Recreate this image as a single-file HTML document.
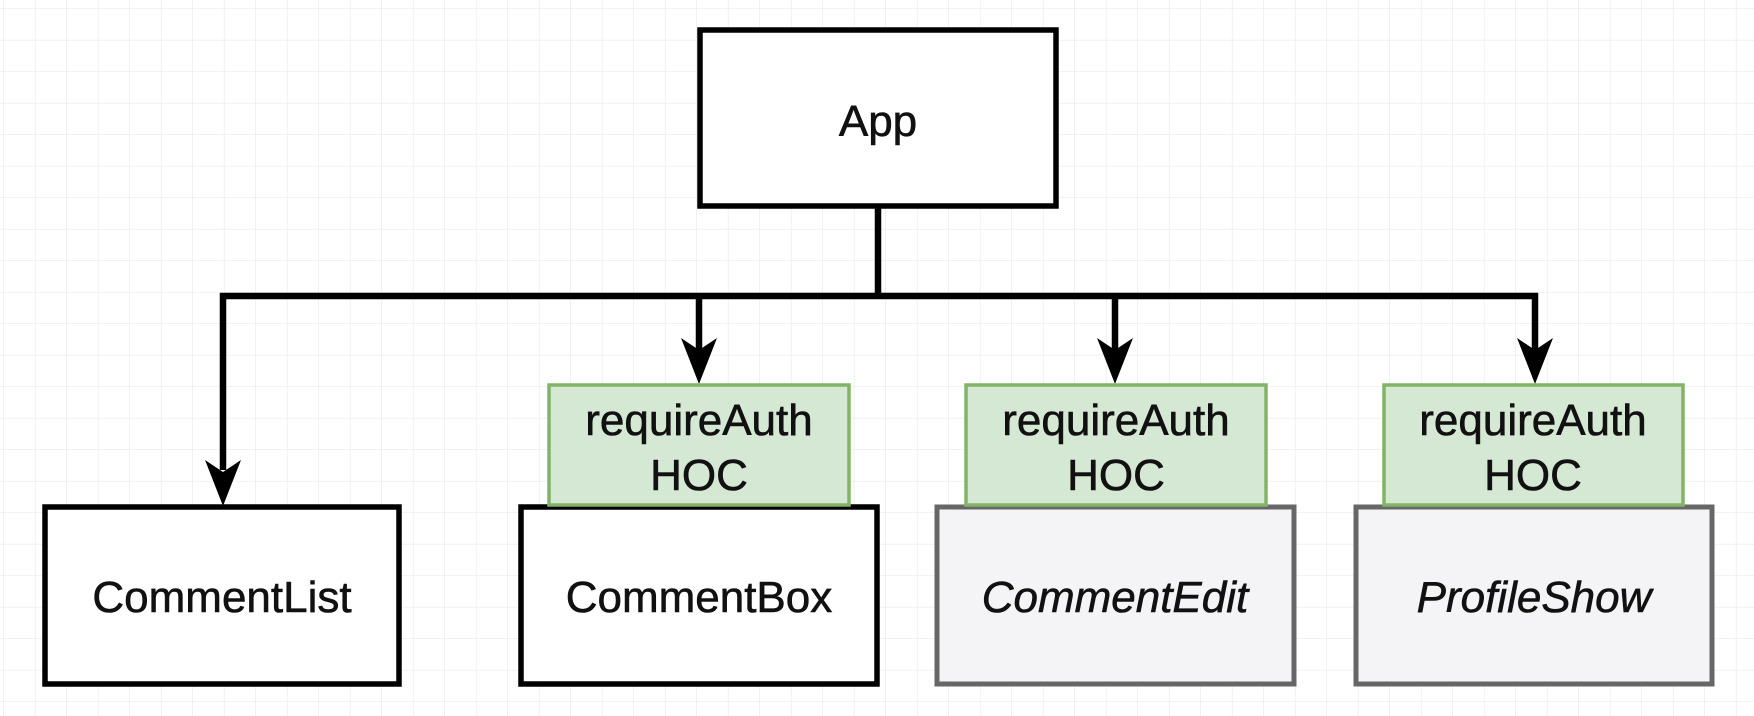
<!DOCTYPE html>
<html><head><meta charset="utf-8"><style>
html,body{margin:0;padding:0;background:#fff;}
svg{display:block;}
text{font-family:"Liberation Sans",sans-serif;font-size:44px;fill:#111;text-anchor:middle;stroke:#111;stroke-width:0.6;}
</style></head><body>
<svg width="1754" height="716" viewBox="0 0 1754 716" xmlns="http://www.w3.org/2000/svg">
<defs>
<pattern id="g" width="31.5" height="31.5" patternUnits="userSpaceOnUse" x="4" y="9">
<path d="M31.5 0V31.5M0 31.5H31.5" stroke="#e9e9e9" stroke-width="1.3" fill="none"/>
</pattern>
</defs>
<rect width="1754" height="716" fill="#fff"/>
<rect width="1754" height="716" fill="url(#g)"/>

<!-- App -->
<rect x="700" y="30" width="356" height="176" fill="#fff" stroke="#000" stroke-width="5.5"/>
<text x="878" y="136">App</text>

<!-- connectors -->
<path d="M878 206 V296" stroke="#000" stroke-width="6.5" fill="none"/>
<path d="M220 296 H1538" stroke="#000" stroke-width="6.5" fill="none"/>
<path d="M223 293 V470" stroke="#000" stroke-width="6.5"/>
<path d="M205 460 L223 506 L241 460 L223 472 Z" fill="#000"/>
<path d="M699 296 V350" stroke="#000" stroke-width="6.5"/>
<path d="M681 338 L699 384 L717 338 L699 350 Z" fill="#000"/>
<path d="M1115 296 V350" stroke="#000" stroke-width="6.5"/>
<path d="M1097 338 L1115 384 L1133 338 L1115 350 Z" fill="#000"/>
<path d="M1535 293 V350" stroke="#000" stroke-width="6.5"/>
<path d="M1517 338 L1535 384 L1553 338 L1535 350 Z" fill="#000"/>

<!-- bottom boxes -->
<rect x="45" y="507" width="354" height="177" fill="#fff" stroke="#000" stroke-width="5.5"/>
<text x="222" y="612">CommentList</text>
<rect x="521" y="507" width="356" height="177" fill="#fff" stroke="#000" stroke-width="5.5"/>
<text x="699" y="612">CommentBox</text>
<rect x="937" y="507" width="357" height="177" fill="#f4f4f6" stroke="#666" stroke-width="5"/>
<text x="1115" y="612" font-style="italic">CommentEdit</text>
<rect x="1356" y="507" width="356" height="177" fill="#f4f4f6" stroke="#666" stroke-width="5"/>
<text x="1534" y="612" font-style="italic">ProfileShow</text>

<!-- HOC boxes -->
<rect x="549" y="385" width="300" height="120" fill="#d5e8d4" stroke="#82b366" stroke-width="3.5"/>
<text x="699" y="435">requireAuth</text><text x="699" y="490">HOC</text>
<rect x="966" y="385" width="300" height="120" fill="#d5e8d4" stroke="#82b366" stroke-width="3.5"/>
<text x="1116" y="435">requireAuth</text><text x="1116" y="490">HOC</text>
<rect x="1384" y="385" width="299" height="120" fill="#d5e8d4" stroke="#82b366" stroke-width="3.5"/>
<text x="1533" y="435">requireAuth</text><text x="1533" y="490">HOC</text>
</svg>
</body></html>
